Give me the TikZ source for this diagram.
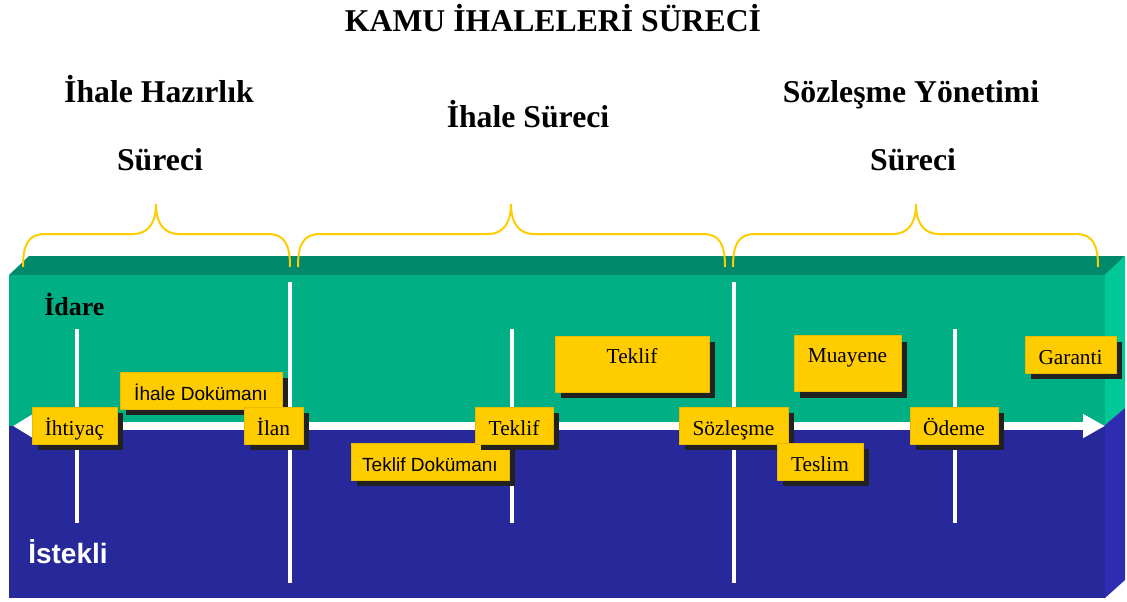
\documentclass[tikz,border=0pt]{standalone}
\usepackage{fontspec}
\setmainfont{Liberation Serif}
\setsansfont{Liberation Sans}
\usetikzlibrary{shadows,arrows.meta}

\definecolor{topgreen}{HTML}{00896A}
\definecolor{frontgreen}{HTML}{00AF84}
\definecolor{sidegreen}{HTML}{00C896}
\definecolor{frontblue}{HTML}{27289A}
\definecolor{sideblue}{HTML}{2E2DB2}
\definecolor{boxyellow}{HTML}{FFCC00}
\definecolor{boxedge}{HTML}{E9BB00}

\begin{document}
\begin{tikzpicture}[x=0.75pt,y=0.75pt,
	stage/.style={draw=boxedge,line width=0.4pt,fill=boxyellow,inner xsep=0pt,inner ysep=0pt,
		text height=21pt,text depth=6.75pt,font=\fontsize{16}{18}\selectfont,
		drop shadow={shadow xshift=4.5pt,shadow yshift=-4.5pt,fill=black!87,opacity=1}},
	bigstage/.style={stage,text height=20.25pt,text depth=21.75pt},
	docstage/.style={stage,font=\sffamily\fontsize{14.3}{16}\selectfont},
	phase/.style={anchor=base,font=\bfseries\fontsize{23.8}{26}\selectfont},
	divider/.style={draw=white,line width=3pt},
	brace/.style={draw=boxyellow,line width=1.5pt}]
	
	\useasboundingbox (0,0) rectangle (1127,601);
	
	\fill[topgreen] (9,326) -- (29,345) -- (1125,345) -- (1105,326) -- cycle;
	\fill[frontgreen] (9,326) rectangle (1105,175);
	\fill[frontblue] (9,175) rectangle (1105,3);
	\fill[sidegreen] (1105,326) -- (1125,345) -- (1125,193) -- (1105,176) -- cycle;
	\fill[sideblue] (1105,176) -- (1125,193) -- (1125,21) -- (1105,3) -- cycle;
	
	\draw[divider] (77,272) -- (77,78);
	\draw[divider] (290,319) -- (290,18);
	\draw[divider] (512,272) -- (512,78);
	\draw[divider] (734,319) -- (734,18);
	\draw[divider] (955,272) -- (955,78);
	
	\coordinate (start) at (13,175);
	\coordinate (finish) at (1105,175);
	\draw[white,line width=6pt,{Triangle[length=15pt,width=17pt]}-{Triangle[length=16.5pt,width=17pt]}] (start) -- (finish);
	
	\draw[brace] (23,334) .. controls (23,356) and (28,367) .. (45,367) -- (133,367)
		.. controls (149,367) and (156,379) .. (156,397) .. controls (156,379) and (163,367) .. (179,367)
		-- (268,367) .. controls (285,367) and (290,356) .. (290,334);
	\draw[brace] (298,334) .. controls (298,356) and (303,367) .. (320,367) -- (488,367)
		.. controls (504,367) and (511,379) .. (511,397) .. controls (511,379) and (518,367) .. (534,367)
		-- (703,367) .. controls (720,367) and (725,356) .. (725,334);
	\draw[brace] (733,334) .. controls (733,356) and (738,367) .. (755,367) -- (893,367)
		.. controls (909,367) and (916,379) .. (916,397) .. controls (916,379) and (923,367) .. (939,367)
		-- (1076,367) .. controls (1093,367) and (1098,356) .. (1098,334);
	
	\node[phase] (title) at (553,569) {KAMU İHALELERİ SÜRECİ};
	\node[phase] (prephead) at (159,498) {İhale Hazırlık};
	\node[phase] (prepsub) at (160,431) {Süreci};
	\node[phase] (tenderhead) at (528,474) {İhale Süreci};
	\node[phase] (managehead) at (911,498) {Sözleşme Yönetimi};
	\node[phase] (managesub) at (913,431) {Süreci};
	
	\node[anchor=base west,inner sep=0pt,font=\bfseries\fontsize{19.5}{22}\selectfont] (idare) at (44,286) {İdare};
	\node[anchor=base west,inner sep=0pt,text=white,font=\sffamily\bfseries\fontsize{21}{24}\selectfont] (istekli) at (28,38) {İstekli};
	
	\node[docstage,minimum width=121.5pt] (tenderdoc) at (201,210.5) {İhale Dokümanı};
	\node[stage,minimum width=63.75pt] (need) at (74.5,175.5) {İhtiyaç};
	\node[stage,minimum width=44.25pt] (notice) at (273.5,175.5) {İlan};
	\node[docstage,minimum width=118.5pt] (biddoc) at (430,139.5) {Teklif Dokümanı};
	\node[stage,minimum width=58.5pt] (bid) at (514,175.5) {Teklif};
	\node[bigstage,minimum width=115.5pt] (offer) at (632,237) {Teklif};
	\node[stage,minimum width=81.75pt] (signing) at (733.5,175.5) {Sözleşme};
	\node[stage,minimum width=64.5pt] (delivery) at (820,139.5) {Teslim};
	\node[bigstage,minimum width=80.25pt] (inspection) at (847.5,237.5) {Muayene};
	\node[stage,minimum width=66pt] (payment) at (954,175.5) {Ödeme};
	\node[stage,minimum width=68.25pt] (warranty) at (1070.5,246.5) {Garanti};
	
\end{tikzpicture}
\end{document}
